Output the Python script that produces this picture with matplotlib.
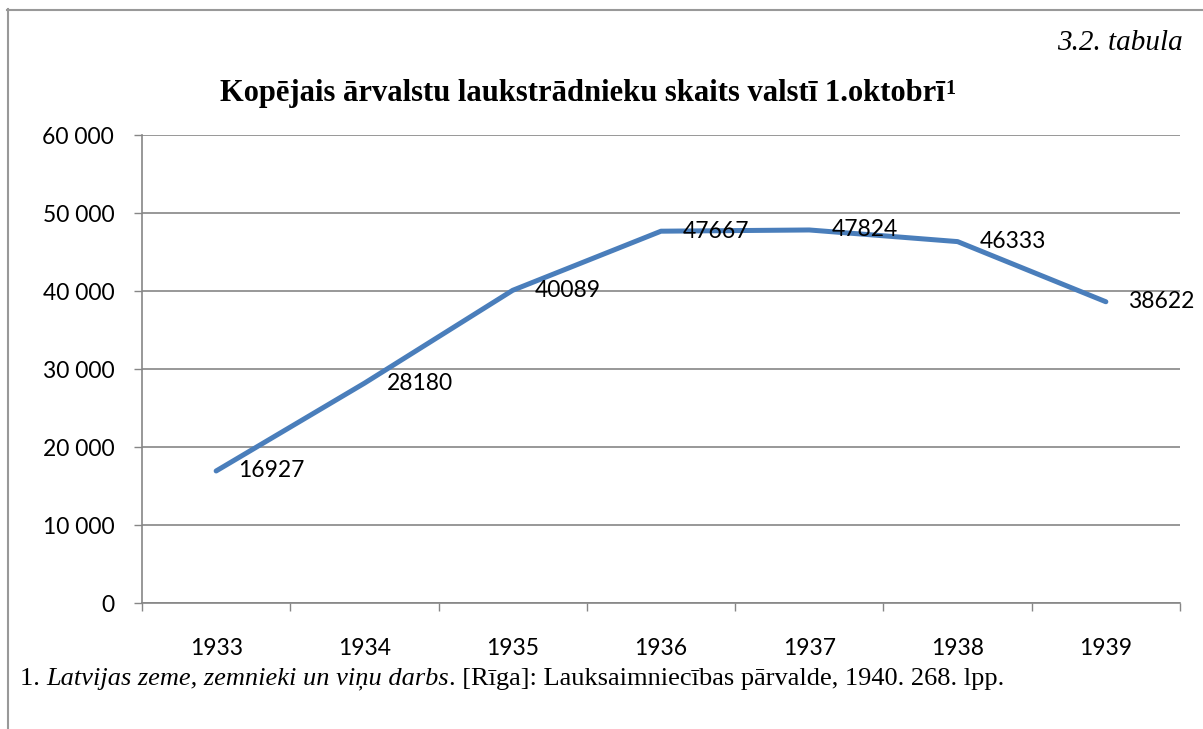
import matplotlib
matplotlib.use("Agg")
import matplotlib.pyplot as plt
from matplotlib.lines import Line2D
from matplotlib.ticker import FuncFormatter, FixedLocator

# dati
gadi = ["1933", "1934", "1935", "1936", "1937", "1938", "1939"]
skaits = [16927, 28180, 40089, 47667, 47824, 46333, 38622]
y_ticks = [0, 10000, 20000, 30000, 40000, 50000, 60000]

virsraksts = "Kopējais ārvalstu laukstrādnieku skaits valstī 1.oktobrī"
tabula = "3.2. tabula"
avots_1 = "1. "
avots_2 = "Latvijas zeme, zemnieki un viņu darbs"
avots_3 = ". [Rīga]: Lauksaimniecības pārvalde, 1940. 268. lpp."

W, H = 1203, 729
fig = plt.figure(figsize=(W / 100, H / 100), dpi=100)
ax = fig.add_axes([142 / W, 1 - 603 / H, (1180 - 142) / W, (603 - 135) / H])

pel = "#868686"
zils = "#4a7ebb"
sans = "Lato"
serif = "Liberation Serif"

x = list(range(len(gadi)))
ax.plot(x, skaits, color=zils, lw=3.6, solid_capstyle="round", solid_joinstyle="round", zorder=3)
for xi, v in zip(x, skaits):
    ax.annotate(str(v), (xi, v), xytext=(16, 0), textcoords="offset points",
                ha="left", va="center", fontsize=16.5, family=sans, color="black",
                annotation_clip=False, zorder=4)

ax.set_xlim(-0.5, len(gadi) - 0.5)
ax.set_ylim(0, 60000)
ax.set_yticks(y_ticks)
ax.yaxis.set_major_formatter(FuncFormatter(lambda v, p: f"{int(v):,}".replace(",", " ")))
ax.set_xticks(x)
ax.set_xticklabels(gadi)
ax.xaxis.set_minor_locator(FixedLocator([i - 0.5 for i in range(len(gadi) + 1)]))
ax.tick_params(axis="x", which="major", length=0, pad=25)
ax.tick_params(axis="x", which="minor", length=6, color=pel, width=1, direction="out")
ax.tick_params(axis="y", length=6, color=pel, width=1, pad=14)
for lab in ax.get_xticklabels() + ax.get_yticklabels():
    lab.set_fontsize(16.5)
    lab.set_family(sans)

ax.grid(axis="y", color=pel, lw=1.2)
ax.set_axisbelow(True)
for s in ["top", "right"]:
    ax.spines[s].set_visible(False)
for s in ["left", "bottom"]:
    ax.spines[s].set_color(pel)
    ax.spines[s].set_linewidth(1.2)

# virsraksts
t = fig.text(582 / W, 1 - 93 / H, virsraksts, ha="center", va="center",
             fontsize=22, fontweight="bold", family=serif)
fig.add_artist(plt.Annotation("1", xy=(1, 1), xycoords=t, xytext=(1, 0),
                              textcoords="offset points", ha="left", va="top",
                              fontsize=14.5, fontweight="bold", family=serif))
fig.text(1183 / W, 1 - 43 / H, tabula, ha="right", va="center",
         fontsize=21, style="italic", family=serif)

# avots
a1 = fig.text(20 / W, 1 - 679 / H, avots_1, ha="left", va="center", fontsize=19, family=serif)
a2 = fig.add_artist(plt.Annotation(avots_2, xy=(1, 0), xycoords=a1, ha="left", va="bottom",
                                   fontsize=19, style="italic", family=serif))
fig.add_artist(plt.Annotation(avots_3, xy=(1, 0), xycoords=a2, ha="left", va="bottom",
                              fontsize=19, family=serif))

# rāmis
fig.add_artist(Line2D([7.5 / W, 7.5 / W], [0, 1 - 9 / H], color="#999999", lw=1.5))
fig.add_artist(Line2D([7 / W, 1], [1 - 9.5 / H, 1 - 9.5 / H], color="#999999", lw=1.5))

fig.savefig("out.png", dpi=100)
